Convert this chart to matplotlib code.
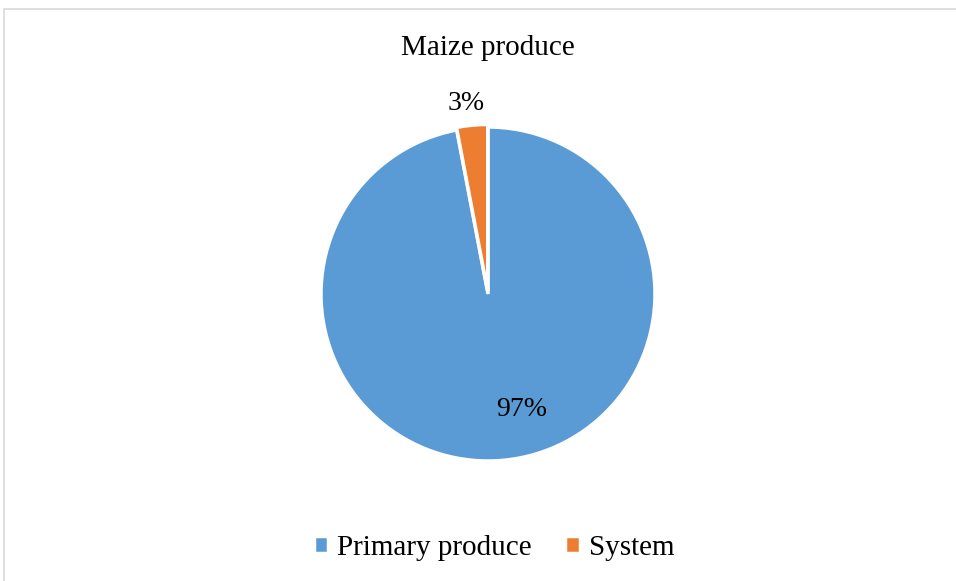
import matplotlib.pyplot as plt
from matplotlib.patches import Rectangle

labels = ["Primary produce", "System"]
values = [97, 3]
colors = ["#5B9BD5", "#ED7D31"]

plt.rcParams['font.family'] = ['Liberation Serif', 'DejaVu Serif']

fig = plt.figure(figsize=(9.56, 5.81), dpi=100)
W, H = 956, 581

# outer chart frame (cropped at right/bottom)
fig.patches.append(Rectangle((4 / W, -0.1), 1.1, 1.1 - 9 / H, transform=fig.transFigure,
                             fill=False, edgecolor="#d9d9d9", linewidth=1.2))

cx, cy, r = 488, 294, 167
ax = fig.add_axes([(cx - r) / W, 1 - (cy + r) / H, 2 * r / W, 2 * r / H])
wedges, texts, autotexts = ax.pie(values, colors=colors, startangle=90, counterclock=False,
                                  explode=[0, 0.015], autopct="%1.0f%%",
                                  wedgeprops=dict(edgecolor="white", linewidth=2.5),
                                  textprops=dict(fontsize=20))
ax.set_xlim(-1, 1)
ax.set_ylim(-1, 1)
ax.set_aspect("equal")

# label placement like the original
autotexts[0].set_position((34 / r, -116 / r))
autotexts[1].set_position((-22 / r, 190 / r))

fig.text(cx / W, 1 - 48 / H, "Maize produce", ha="center", va="center", fontsize=21)

fig.legend(wedges, labels, loc="center", bbox_to_anchor=(494 / W, 1 - 548 / H),
           ncol=2, frameon=False, fontsize=21, handlelength=0.5, handleheight=0.5,
           handletextpad=0.3, columnspacing=1.15)

fig.savefig("out.png", dpi=100)
